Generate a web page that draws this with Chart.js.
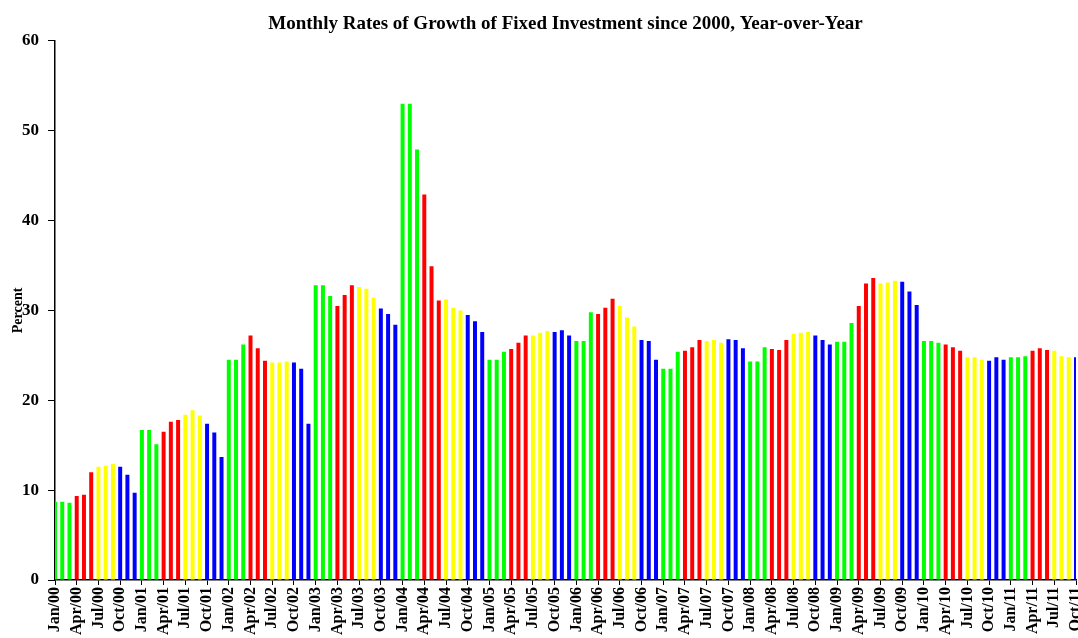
<!DOCTYPE html>
<html lang="en">
<head>
<meta charset="UTF-8" />
<title>Fixed Investment Growth</title>
<script src="https://cdn.jsdelivr.net/npm/chart.js@4.4.0/dist/chart.umd.min.js"></script>
<style>
  html, body { margin: 0; padding: 0; background: #fff; }
</style>
</head>
<body>
<canvas id="chart1" width="1078" height="638"></canvas>
<script>
// year-over-year growth of fixed investment, percent, one array per year
const fai2000 = [8.7, 8.7, 8.6, 9.35, 9.5, 12.0, 12.6, 12.7, 12.9, 12.6, 11.7, 9.7];
const fai2001 = [16.7, 16.7, 15.1, 16.5, 17.6, 17.8, 18.4, 18.9, 18.3, 17.4, 16.4, 13.7];
const fai2002 = [24.5, 24.5, 26.2, 27.2, 25.8, 24.4, 24.2, 24.2, 24.3, 24.2, 23.5, 17.4];
const fai2003 = [32.8, 32.8, 31.6, 30.5, 31.7, 32.8, 32.6, 32.4, 31.4, 30.2, 29.6, 28.4];
const fai2004 = [53.0, 53.0, 47.9, 42.9, 34.9, 31.1, 31.2, 30.3, 30.0, 29.5, 28.8, 27.6];
const fai2005 = [24.5, 24.5, 25.4, 25.7, 26.4, 27.2, 27.2, 27.5, 27.7, 27.6, 27.8, 27.2];
const fai2006 = [26.6, 26.6, 29.8, 29.6, 30.3, 31.3, 30.5, 29.2, 28.2, 26.7, 26.6, 24.5];
const fai2007 = [23.5, 23.5, 25.4, 25.5, 25.9, 26.7, 26.6, 26.7, 26.4, 26.8, 26.7, 25.8];
const fai2008 = [24.3, 24.3, 25.9, 25.7, 25.6, 26.7, 27.4, 27.5, 27.6, 27.2, 26.7, 26.2];
const fai2009 = [26.5, 26.5, 28.6, 30.5, 33.0, 33.6, 33.0, 33.1, 33.3, 33.2, 32.1, 30.6];
const fai2010 = [26.6, 26.6, 26.4, 26.2, 25.9, 25.5, 24.8, 24.8, 24.5, 24.4, 24.8, 24.5];
const fai2011 = [24.8, 24.8, 24.9, 25.5, 25.8, 25.6, 25.5, 24.9, 24.8, 24.8];

const monthNames = ["Jan", "Feb", "Mar", "Apr", "May", "Jun", "Jul", "Aug", "Sep", "Oct", "Nov", "Dec"];
const years = ["00", "01", "02", "03", "04", "05", "06", "07", "08", "09", "10", "11"];
// Q1 green, Q2 red, Q3 yellow, Q4 blue
const quarterColors = ["#00ff00", "#ff0000", "#ffff00", "#0000ff"];

const values = [].concat(fai2000, fai2001, fai2002, fai2003, fai2004, fai2005,
  fai2006, fai2007, fai2008, fai2009, fai2010, fai2011);

const labels = [];
const colors = [];
for (let i = 0; i < values.length; i++) {
  const m = i % 12;
  labels.push(monthNames[m] + "/" + years[Math.floor(i / 12)]);
  colors.push(quarterColors[Math.floor(m / 3)]);
}

const serif = '"Liberation Serif", "Times New Roman", Times, serif';

const ctx = document.getElementById("chart1").getContext("2d");
const chart1 = new Chart(ctx, {
  type: "bar",
  data: {
    labels: labels,
    datasets: [{
      data: values,
      backgroundColor: colors,
      barPercentage: 0.55,
      categoryPercentage: 1,
    }],
  },
  options: {
    responsive: false,
    animation: false,
    layout: { padding: { right: 2 } },
    plugins: {
      legend: { display: false },
      tooltip: { enabled: false },
      title: {
        display: true,
        fullSize: false,
        text: "Monthly Rates of Growth of Fixed Investment since 2000, Year-over-Year",
        color: "#000",
        font: { family: serif, size: 19, weight: "bold" },
        padding: { top: 13, bottom: 5 },
      },
    },
    scales: {
      x: {
        offset: false,
        grid: { offset: false, drawOnChartArea: false, tickLength: 5, color: "#000" },
        border: { color: "#000", width: 1.5 },
        ticks: {
          autoSkip: false,
          minRotation: 90,
          maxRotation: 90,
          padding: 2,
          color: "#000",
          font: { family: serif, size: 16, weight: "bold" },
          callback: function (v, i) {
            return i % 3 === 0 ? this.getLabelForValue(v) : null;
          },
        },
        afterFit: (s) => { s.height = 58; s.paddingLeft = 0; s.paddingRight = 0; },
      },
      y: {
        min: 0,
        max: 60,
        ticks: {
          stepSize: 10,
          padding: 9,
          color: "#000",
          font: { family: serif, size: 17, weight: "bold" },
        },
        grid: { drawOnChartArea: false, tickLength: 7, color: "#000" },
        border: { color: "#000", width: 1.5 },
        title: {
          display: true,
          text: "Percent",
          color: "#000",
          font: { family: serif, size: 14, weight: "bold" },
          padding: { top: 10, bottom: 0 },
        },
        afterFit: (s) => { s.width = 55; },
      },
    },
  },
});
</script>
</body>
</html>
